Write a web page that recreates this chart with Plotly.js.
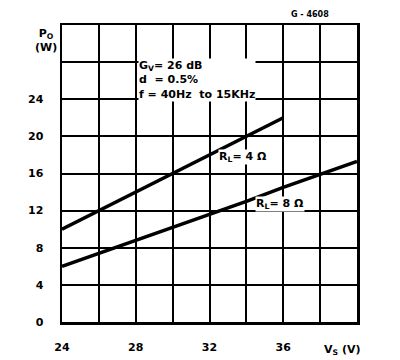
<!DOCTYPE html>
<html><head><meta charset="utf-8">
<script src="https://cdn.plot.ly/plotly-3.0.1.min.js"></script>
<style>html,body{margin:0;padding:0;background:#fff}#chart{width:400px;height:360px}</style>
</head><body><div id="chart"></div>
<script>
const vs = [24, 26, 28, 30, 32, 34, 36, 38, 40];
const po4ohm = [10, 12, 14, 16, 18, 20, 22];
const po8ohm = [6, 7.4, 8.8, 10.2, 11.6, 13.0, 14.5, 15.9, 17.3];
const xTickVals = [24, 26, 28, 30, 32, 34, 36, 38, 40];
const xTickText = ['24', '', '28', '', '32', '', '36', '', ''];
const yTickVals = [0, 4, 8, 12, 16, 20, 24, 28, 32];
const yTickText = ['0', '4', '8', '12', '16', '20', '24', '', ''];

const F = 'DejaVu Sans';
const traces = [
  {x: vs.slice(0, po4ohm.length), y: po4ohm, mode: 'lines', line: {color: '#000', width: 3.5}, hoverinfo: 'skip'},
  {x: vs, y: po8ohm, mode: 'lines', line: {color: '#000', width: 3.5}, hoverinfo: 'skip'}
];
const ann = (x, y, text, extra) => Object.assign({x, y, xref: 'x', yref: 'y', text, showarrow: false,
  font: {family: F, size: 11, color: '#000', weight: 'bold'}}, extra || {});
const layout = {
  width: 400, height: 360,
  margin: {l: 62, r: 43, t: 25, b: 38},
  paper_bgcolor: '#fff', plot_bgcolor: '#fff',
  showlegend: false,
  font: {family: F, size: 11, color: '#000', weight: 'bold'},
  xaxis: {range: [24, 40], tickvals: xTickVals, ticktext: xTickText, showgrid: true, gridcolor: '#000', gridwidth: 2,
    zeroline: false, showline: true, linecolor: '#000', linewidth: 2.5, mirror: true, ticks: '', ticklabelstandoff: 13,
    tickfont: {family: F, size: 11, color: '#000', weight: 'bold'}, fixedrange: true},
  yaxis: {range: [0, 32], tickvals: yTickVals, ticktext: yTickText, showgrid: true, gridcolor: '#000', gridwidth: 2,
    zeroline: false, showline: true, linecolor: '#000', linewidth: 2.5, mirror: true, ticks: '', ticklabelstandoff: 14,
    tickfont: {family: F, size: 11, color: '#000', weight: 'bold'}, fixedrange: true},
  annotations: [
    ann(28.1, 26.1, 'G<sub>V</sub>= 26 dB<br>d  = 0.5%<br>f = 40Hz  to 15KHz', {xanchor: 'left', yanchor: 'middle', align: 'left', bgcolor: '#fff', borderpad: 0}),
    ann(33.8, 17.8, 'R<sub>L</sub>= 4 Ω', {xanchor: 'center', bgcolor: '#fff', borderpad: 0}),
    ann(35.85, 12.7, 'R<sub>L</sub>= 8 Ω', {xanchor: 'center', bgcolor: '#fff', borderpad: 0}),
    {xref: 'paper', yref: 'paper', x: -0.054, y: 1.0, xanchor: 'center', yanchor: 'top', align: 'center', showarrow: false,
     text: 'P<sub>O</sub><br>(W)', font: {family: F, size: 11, color: '#000', weight: 'bold'}},
    {xref: 'x', yref: 'paper', x: 39.2, y: -0.065, xanchor: 'center', yanchor: 'top', showarrow: false,
     text: 'V<sub>S</sub> (V)', font: {family: F, size: 11, color: '#000', weight: 'bold'}},
    {xref: 'paper', yref: 'paper', x: 0.84, y: 1.035, xanchor: 'center', yanchor: 'middle', showarrow: false,
     text: 'G - 4608', font: {family: F, size: 8, color: '#000', weight: 'bold'}}
  ]
};
Plotly.newPlot('chart', traces, layout, {displayModeBar: false, staticPlot: true});
</script></body></html>
